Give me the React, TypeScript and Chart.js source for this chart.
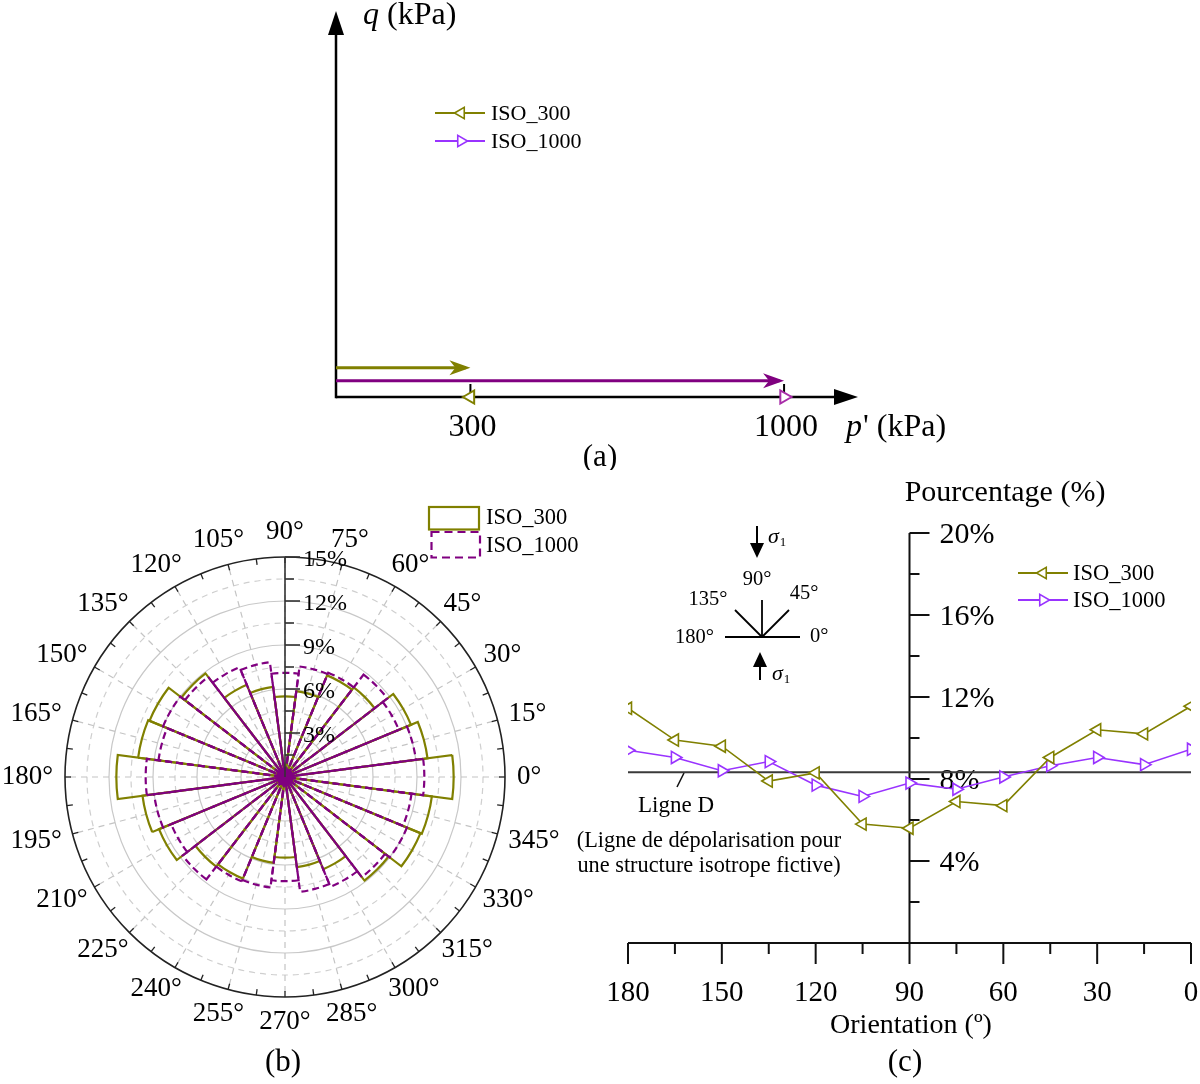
import React, { useEffect, useRef } from "react";
import { Chart, registerables } from "chart.js";

Chart.register(...registerables);

const SERIF = '"Liberation Serif", "Times New Roman", Times, serif';
const OLIVE = "#808000";
const PURPLE = "#800080";
const VIOLET = "#9933ff";
const MAGENTA = "#a82ca8";

// ---------------- Panel (a): loading paths in the p'-q plane ----------------
const seriesNames = ["ISO_300", "ISO_1000"];
const pathStartP = [0, 0];
const pathEndP = [300, 1000];
const pathQ = [7.6, 4.2]; // paths drawn slightly above q = 0 for readability
const endStateP = [300, 1000];
const endStateQ = [0, 0];
const pTicks = [300, 1000];
const pAxisMax = 1165;
const qAxisMax = 100;

// ---------------- Panel (b): rose diagram (%) ----------------
const roseBins = [0, 15, 30, 45, 60, 75, 90, 105, 120, 135, 150, 165];
const rose300 = [11.5, 9.8, 9.3, 7.7, 7.5, 5.9, 5.5, 6.2, 6.8, 8.9, 10.0, 10.1];
const rose1000 = [9.5, 9.0, 8.4, 8.8, 7.7, 7.6, 7.1, 7.9, 8.1, 8.6, 9.0, 8.7];
const roseRadialTicks = [3, 6, 9, 12, 15];
const roseMax = 15;
const roseAngleLabels = [
  0, 15, 30, 45, 60, 75, 90, 105, 120, 135, 150, 165,
  180, 195, 210, 225, 240, 255, 270, 285, 300, 315, 330, 345,
];

// ---------------- Panel (c): distribution vs orientation (%) ----------------
const orientations = [0, 15, 30, 45, 60, 75, 90, 105, 120, 135, 150, 165, 180];
const iso300 = [11.55, 10.2, 10.4, 9.05, 6.7, 6.9, 5.6, 5.8, 8.3, 7.9, 9.6, 9.9, 11.45];
const iso1000 = [9.45, 8.7, 9.05, 8.65, 8.1, 7.5, 7.8, 7.15, 7.7, 8.85, 8.4, 9.05, 9.4];
const ligneDOrient = [180, 0];
const ligneDValue = [8.33, 8.33];
const xTicksC = [180, 150, 120, 90, 60, 30, 0];
const yTicksC = [4, 8, 12, 16, 20];

// ---------------- helpers ----------------
function txt(
  ctx: CanvasRenderingContext2D,
  s: string,
  x: number,
  y: number,
  size: number,
  align: CanvasTextAlign = "center",
  italic = false,
  color = "#000"
) {
  ctx.font = `${italic ? "italic " : ""}${size}px ${SERIF}`;
  ctx.fillStyle = color;
  ctx.textAlign = align;
  ctx.textBaseline = "middle";
  ctx.fillText(s, x, y);
  return ctx.measureText(s).width;
}

function tri(
  ctx: CanvasRenderingContext2D,
  x: number,
  y: number,
  r: number,
  dir: "left" | "right",
  color: string,
  lw = 1.5
) {
  let a = dir === "left" ? -Math.PI / 2 : Math.PI / 2;
  ctx.beginPath();
  for (let k = 0; k < 3; k++) {
    const px = x + Math.sin(a) * r;
    const py = y - Math.cos(a) * r;
    if (k === 0) ctx.moveTo(px, py);
    else ctx.lineTo(px, py);
    a += (2 * Math.PI) / 3;
  }
  ctx.closePath();
  ctx.fillStyle = "#fff";
  ctx.fill();
  ctx.strokeStyle = color;
  ctx.lineWidth = lw;
  ctx.setLineDash([]);
  ctx.stroke();
}

function line(ctx: CanvasRenderingContext2D, x1: number, y1: number, x2: number, y2: number) {
  ctx.beginPath();
  ctx.moveTo(x1, y1);
  ctx.lineTo(x2, y2);
  ctx.stroke();
}

function sigma1(ctx: CanvasRenderingContext2D, x: number, y: number) {
  const w = txt(ctx, "σ", x, y, 22, "left", true);
  txt(ctx, "1", x + w + 1, y + 6, 13, "left");
}

// ---------------- Panel (a) ----------------
const A_POS = { left: 0, top: 0, w: 1200, h: 470 };

const panelAPlugin = {
  id: "panelA",
  beforeDatasetsDraw(chart: any) {
    const { ctx, scales } = chart;
    const x = scales.x;
    const y = scales.y;
    const x0 = x.getPixelForValue(0);
    const y0 = y.getPixelForValue(0);
    const xEnd = x.getPixelForValue(pAxisMax);
    const yEnd = y.getPixelForValue(qAxisMax);
    ctx.save();
    ctx.strokeStyle = "#000";
    ctx.fillStyle = "#000";
    ctx.lineWidth = 2.5;
    line(ctx, x0, y0, xEnd - 12, y0);
    line(ctx, x0, y0 + 1.2, x0, yEnd + 12);
    ctx.beginPath();
    ctx.moveTo(xEnd, y0);
    ctx.lineTo(xEnd - 24, y0 - 8);
    ctx.lineTo(xEnd - 24, y0 + 8);
    ctx.closePath();
    ctx.fill();
    ctx.beginPath();
    ctx.moveTo(x0, yEnd);
    ctx.lineTo(x0 - 8, yEnd + 24);
    ctx.lineTo(x0 + 8, yEnd + 24);
    ctx.closePath();
    ctx.fill();
    ctx.lineWidth = 2;
    pTicks.forEach((p) => {
      const px = x.getPixelForValue(p);
      line(ctx, px, y0, px, y0 - 13);
      txt(ctx, String(p), px + 2, y0 + 31, 32);
    });
    ctx.restore();
  },
  afterDatasetsDraw(chart: any) {
    const { ctx, scales } = chart;
    const x = scales.x;
    const y = scales.y;
    const y0 = y.getPixelForValue(0);
    ctx.save();
    // arrowheads at the end of each path
    const cols = [OLIVE, PURPLE];
    seriesNames.forEach((_, i) => {
      const tx = x.getPixelForValue(pathEndP[i]);
      const ty = y.getPixelForValue(pathQ[i]);
      ctx.fillStyle = cols[i];
      ctx.beginPath();
      ctx.moveTo(tx, ty);
      ctx.lineTo(tx - 21, ty - 7.5);
      ctx.lineTo(tx - 15, ty);
      ctx.lineTo(tx - 21, ty + 7.5);
      ctx.closePath();
      ctx.fill();
    });
    // axis titles
    const xEnd = x.getPixelForValue(pAxisMax);
    const x0 = x.getPixelForValue(0);
    let w = txt(ctx, "p", xEnd - 12, y0 + 31, 32, "left", true);
    txt(ctx, "' (kPa)", xEnd - 12 + w + 1, y0 + 31, 32, "left");
    w = txt(ctx, "q", x0 + 27, 16, 32, "left", true);
    txt(ctx, " (kPa)", x0 + 27 + w, 16, 32, "left");
    txt(ctx, "(a)", 600, y0 + 61, 31);
    // legend
    const legCols = [OLIVE, VIOLET];
    const dirs: ("left" | "right")[] = ["left", "right"];
    seriesNames.forEach((name, i) => {
      const ly = 113 + 28 * i;
      ctx.strokeStyle = legCols[i];
      ctx.lineWidth = 2;
      line(ctx, 435, ly, 485, ly);
      tri(ctx, 461, ly, 6.5, dirs[i], legCols[i], 1.6);
      txt(ctx, name, 491, ly + 1, 22, "left");
    });
    ctx.restore();
  },
};

function makeA(canvas: HTMLCanvasElement) {
  return new Chart(canvas, {
    type: "scatter",
    data: {
      datasets: [
        {
          label: "ISO_300 end",
          data: [{ x: endStateP[0], y: endStateQ[0] }],
          pointStyle: "triangle",
          rotation: -90,
          pointRadius: 7.5,
          pointBorderWidth: 2,
          pointBackgroundColor: "#fff",
          pointBorderColor: OLIVE,
          clip: false,
        } as any,
        {
          label: "ISO_1000 end",
          data: [{ x: endStateP[1], y: endStateQ[1] }],
          pointStyle: "triangle",
          rotation: 90,
          pointRadius: 7.5,
          pointBorderWidth: 2,
          pointBackgroundColor: "#fff",
          pointBorderColor: MAGENTA,
          clip: false,
        } as any,
        {
          label: "ISO_300 path",
          data: [
            { x: pathStartP[0], y: pathQ[0] },
            { x: pathEndP[0] - 10, y: pathQ[0] },
          ],
          showLine: true,
          borderColor: OLIVE,
          borderWidth: 3,
          pointRadius: 0,
          clip: false,
        } as any,
        {
          label: "ISO_1000 path",
          data: [
            { x: pathStartP[1], y: pathQ[1] },
            { x: pathEndP[1] - 10, y: pathQ[1] },
          ],
          showLine: true,
          borderColor: PURPLE,
          borderWidth: 3,
          pointRadius: 0,
          clip: false,
        } as any,
      ],
    },
    options: {
      responsive: false,
      animation: false,
      layout: { padding: { left: 336, right: A_POS.w - 858, top: 11, bottom: A_POS.h - 397 } },
      scales: {
        x: { type: "linear", min: 0, max: pAxisMax, display: false },
        y: { type: "linear", min: 0, max: qAxisMax, display: false },
      },
      plugins: { legend: { display: false }, tooltip: { enabled: false } },
    },
    plugins: [panelAPlugin],
  } as any);
}

// ---------------- Panel (b) ----------------
const B_POS = { left: 0, top: 470, w: 600, h: 614 };
// clockwise from the top, as Chart.js lays out polar-area segments
const roseOrder = roseAngleLabels.map((_, i) => (90 - 15 * i + 360) % 360);

const panelBPlugin = {
  id: "panelB",
  beforeDatasetsDraw(chart: any) {
    const { ctx } = chart;
    const s = chart.scales.r;
    const cx = s.xCenter;
    const cy = s.yCenter;
    const R = s.getDistanceFromCenterForValue(roseMax);
    ctx.save();
    // circular grid: solid at labelled ticks, dashed halfway between
    const gridVals: number[] = [];
    roseRadialTicks.forEach((v, i) => {
      const prev = i === 0 ? 0 : roseRadialTicks[i - 1];
      gridVals.push((prev + v) / 2);
      if (v < roseMax) gridVals.push(v);
    });
    gridVals.forEach((v) => {
      const major = roseRadialTicks.indexOf(v) >= 0;
      ctx.strokeStyle = major ? "#c8c8c8" : "#cfcfcf";
      ctx.lineWidth = 1.2;
      ctx.setLineDash(major ? [] : [6, 5]);
      ctx.beginPath();
      ctx.arc(cx, cy, s.getDistanceFromCenterForValue(v), 0, Math.PI * 2);
      ctx.stroke();
    });
    // dashed angle lines
    ctx.strokeStyle = "#c4c4c4";
    ctx.setLineDash([6, 5]);
    roseAngleLabels.forEach((a) => {
      const rad = (a * Math.PI) / 180;
      line(ctx, cx, cy, cx + Math.cos(rad) * R, cy - Math.sin(rad) * R);
    });
    ctx.setLineDash([]);
    // outer ring with ticks every 7.5 degrees
    ctx.strokeStyle = "#222";
    ctx.lineWidth = 1.6;
    ctx.beginPath();
    ctx.arc(cx, cy, R, 0, Math.PI * 2);
    ctx.stroke();
    ctx.lineWidth = 1.3;
    for (let k = 0; k < 48; k++) {
      const rad = (k * 7.5 * Math.PI) / 180;
      const c = Math.cos(rad);
      const sn = Math.sin(rad);
      line(ctx, cx + c * R, cy - sn * R, cx + c * (R - 6), cy - sn * (R - 6));
    }
    ctx.restore();
  },
  afterDatasetsDraw(chart: any) {
    const { ctx } = chart;
    const s = chart.scales.r;
    const cx = s.xCenter;
    const cy = s.yCenter;
    const R = s.getDistanceFromCenterForValue(roseMax);
    ctx.save();
    // where the many sector edges converge
    ctx.fillStyle = PURPLE;
    ctx.beginPath();
    ctx.arc(cx, cy, 9, 0, Math.PI * 2);
    ctx.fill();
    // radial axis along 90 deg
    ctx.strokeStyle = "#333";
    ctx.lineWidth = 1.6;
    line(ctx, cx, cy, cx, cy - R);
    roseRadialTicks.forEach((v, i) => {
      const prev = i === 0 ? 0 : roseRadialTicks[i - 1];
      const ym = cy - s.getDistanceFromCenterForValue((prev + v) / 2);
      line(ctx, cx, ym, cx + 9, ym);
      const yv = cy - s.getDistanceFromCenterForValue(v);
      line(ctx, cx, yv, cx + 15, yv);
      txt(ctx, v + "%", cx + 18, yv + 3, 24, "left");
    });
    // angular labels
    roseAngleLabels.forEach((a) => {
      const rad = (a * Math.PI) / 180;
      const c = Math.cos(rad);
      const sn = Math.sin(rad);
      const label = a + "°";
      ctx.font = `27px ${SERIF}`;
      const w = ctx.measureText(label).width;
      const h = 26;
      const d = R + 12;
      txt(ctx, label, cx + c * d + (c * w) / 2, cy - sn * d - (sn * h) / 2, 27);
    });
    ctx.restore();
  },
  afterDraw(chart: any) {
    const { ctx } = chart;
    ctx.save();
    ctx.translate(-B_POS.left, -B_POS.top);
    // legend
    ctx.lineWidth = 2.2;
    ctx.strokeStyle = OLIVE;
    ctx.setLineDash([]);
    ctx.strokeRect(429, 507, 50, 22.5);
    ctx.strokeStyle = PURPLE;
    ctx.setLineDash([8, 5]);
    ctx.strokeRect(431.5, 532, 48.5, 25.5);
    ctx.setLineDash([]);
    txt(ctx, seriesNames[0], 486, 518, 22.5, "left");
    txt(ctx, seriesNames[1], 486, 546, 22.5, "left");
    txt(ctx, "(b)", 283, 1063, 31);
    ctx.restore();
  },
};

function makeB(canvas: HTMLCanvasElement) {
  const left = 65;
  const top = 557 - B_POS.top;
  const size = 440;
  return new Chart(canvas, {
    type: "polarArea",
    data: {
      labels: roseOrder.map((o) => o + "°"),
      datasets: [
        {
          label: seriesNames[1],
          data: roseOrder.map((o) => rose1000[roseBins.indexOf(o % 180)]),
          backgroundColor: "rgba(255,255,255,0)",
          borderColor: PURPLE,
          borderWidth: 2.2,
          borderDash: [7, 4],
          borderAlign: "center",
          borderJoinStyle: "miter",
        } as any,
        {
          label: seriesNames[0],
          data: roseOrder.map((o) => rose300[roseBins.indexOf(o % 180)]),
          backgroundColor: "rgba(255,255,255,0)",
          borderColor: OLIVE,
          borderWidth: 2.2,
          borderAlign: "center",
          borderJoinStyle: "miter",
        } as any,
      ],
    },
    options: {
      responsive: false,
      animation: false,
      layout: {
        padding: { left, top, right: B_POS.w - left - size, bottom: B_POS.h - top - size },
      },
      scales: {
        r: {
          min: 0,
          max: roseMax,
          startAngle: -7.5,
          ticks: { display: false },
          grid: { display: false },
          angleLines: { display: false },
          pointLabels: { display: false },
        },
      },
      plugins: { legend: { display: false }, tooltip: { enabled: false } },
    },
    plugins: [panelBPlugin],
  } as any);
}

// ---------------- Panel (c) ----------------
const C_POS = { left: 560, top: 470, w: 640, h: 614 };

const panelCPlugin = {
  id: "panelC",
  beforeDatasetsDraw(chart: any) {
    const { ctx, scales } = chart;
    const x = scales.x;
    const y = scales.y;
    const y0 = y.getPixelForValue(0);
    const axX = x.getPixelForValue(90);
    ctx.save();
    ctx.strokeStyle = "#111";
    ctx.lineWidth = 2;
    // bottom axis
    line(ctx, x.getPixelForValue(180), y0, x.getPixelForValue(0), y0);
    xTicksC.forEach((v, i) => {
      const px = x.getPixelForValue(v);
      line(ctx, px, y0, px, y0 + 21);
      txt(ctx, String(v), px, y0 + 50, 29);
      if (i < xTicksC.length - 1) {
        const pm = x.getPixelForValue((v + xTicksC[i + 1]) / 2);
        line(ctx, pm, y0, pm, y0 + 11);
      }
    });
    // vertical axis at 90 deg
    line(ctx, axX, y0, axX, y.getPixelForValue(20));
    yTicksC.forEach((v, i) => {
      const py = y.getPixelForValue(v);
      line(ctx, axX, py, axX + 20, py);
      txt(ctx, v + "%", axX + 30, py + 2, 30, "left");
      const prev = i === 0 ? 0 : yTicksC[i - 1];
      const pm = y.getPixelForValue((prev + v) / 2);
      line(ctx, axX, pm, axX + 10, pm);
    });
    ctx.restore();

    // fixed annotations in page coordinates
    ctx.save();
    ctx.translate(-C_POS.left, -C_POS.top);
    txt(ctx, "Pourcentage (%)", 1005, 493, 30);
    txt(ctx, "Orientation (º)", 911, 1026, 28);
    txt(ctx, "(c)", 905, 1063, 31);
    // Ligne D annotation
    ctx.strokeStyle = "#111";
    ctx.lineWidth = 1.5;
    line(ctx, 677, 787, 684, 773);
    txt(ctx, "Ligne D", 676, 806, 23);
    txt(ctx, "(Ligne de dépolarisation pour", 709, 841, 22.3);
    txt(ctx, "une structure isotrope fictive)", 709, 866, 22.3);
    // legend
    const legCols = [OLIVE, VIOLET];
    const dirs: ("left" | "right")[] = ["left", "right"];
    seriesNames.forEach((name, i) => {
      const ly = 573 + 27 * i;
      ctx.strokeStyle = legCols[i];
      ctx.lineWidth = 1.8;
      line(ctx, 1018, ly, 1068, ly);
      tri(ctx, 1043, ly, 6.5, dirs[i], legCols[i], 1.6);
      txt(ctx, name, 1073, ly + 1, 22.5, "left");
    });
    // inset: orientation convention
    ctx.strokeStyle = "#000";
    ctx.fillStyle = "#000";
    ctx.lineWidth = 2;
    line(ctx, 757, 526, 757, 545);
    ctx.beginPath();
    ctx.moveTo(750, 543);
    ctx.lineTo(764, 543);
    ctx.lineTo(757, 558);
    ctx.closePath();
    ctx.fill();
    sigma1(ctx, 768, 537);
    ctx.lineWidth = 1.8;
    const fx = 762;
    const fy = 637;
    line(ctx, 725, fy, 800, fy);
    line(ctx, fx, fy, fx, 600);
    line(ctx, fx, fy, fx - 27, fy - 27);
    line(ctx, fx, fy, fx + 27, fy - 27);
    txt(ctx, "90°", 757, 580, 20.5);
    txt(ctx, "135°", 708, 600, 20.5);
    txt(ctx, "45°", 804, 594, 20.5);
    txt(ctx, "180°", 714, 638, 20.5, "right");
    txt(ctx, "0°", 810, 637, 20.5, "left");
    ctx.lineWidth = 2;
    ctx.beginPath();
    ctx.moveTo(753, 667);
    ctx.lineTo(767, 667);
    ctx.lineTo(760, 652);
    ctx.closePath();
    ctx.fill();
    line(ctx, 760, 665, 760, 680);
    sigma1(ctx, 772, 674);
    ctx.restore();
  },
};

function makeC(canvas: HTMLCanvasElement) {
  const left = 628 - C_POS.left;
  const right = C_POS.w - (1191 - C_POS.left);
  const top = 533 - C_POS.top;
  const bottom = C_POS.h - (943 - C_POS.top);
  return new Chart(canvas, {
    type: "line",
    data: {
      datasets: [
        {
          label: seriesNames[0],
          data: orientations.map((o, i) => ({ x: o, y: iso300[i] })),
          borderColor: OLIVE,
          borderWidth: 1.6,
          pointStyle: "triangle",
          rotation: -90,
          pointRadius: 7,
          pointBorderWidth: 1.6,
          pointBackgroundColor: "#fff",
          pointBorderColor: OLIVE,
          tension: 0,
        } as any,
        {
          label: seriesNames[1],
          data: orientations.map((o, i) => ({ x: o, y: iso1000[i] })),
          borderColor: VIOLET,
          borderWidth: 1.6,
          pointStyle: "triangle",
          rotation: 90,
          pointRadius: 7,
          pointBorderWidth: 1.6,
          pointBackgroundColor: "#fff",
          pointBorderColor: VIOLET,
          tension: 0,
        } as any,
        {
          label: "Ligne D",
          data: ligneDOrient.map((o, i) => ({ x: o, y: ligneDValue[i] })),
          borderColor: "#3a3a3a",
          borderWidth: 2,
          pointRadius: 0,
        } as any,
      ],
    },
    options: {
      responsive: false,
      animation: false,
      layout: { padding: { left, right, top, bottom } },
      scales: {
        x: { type: "linear", min: 0, max: 180, reverse: true, display: false },
        y: { type: "linear", min: 0, max: 20, display: false },
      },
      plugins: { legend: { display: false }, tooltip: { enabled: false } },
    },
    plugins: [panelCPlugin],
  } as any);
}

export default function App() {
  const aRef = useRef<HTMLCanvasElement>(null);
  const bRef = useRef<HTMLCanvasElement>(null);
  const cRef = useRef<HTMLCanvasElement>(null);

  useEffect(() => {
    const charts: Chart[] = [];
    if (aRef.current) charts.push(makeA(aRef.current));
    if (bRef.current) charts.push(makeB(bRef.current));
    if (cRef.current) charts.push(makeC(cRef.current));
    return () => charts.forEach((c) => c.destroy());
  }, []);

  return (
    <div
      style={{
        position: "absolute",
        left: 0,
        top: 0,
        width: 1200,
        height: 1084,
        background: "#fff",
        overflow: "hidden",
      }}
    >
      <canvas
        ref={aRef}
        width={A_POS.w}
        height={A_POS.h}
        style={{ position: "absolute", left: A_POS.left, top: A_POS.top }}
      />
      <canvas
        ref={bRef}
        width={B_POS.w}
        height={B_POS.h}
        style={{ position: "absolute", left: B_POS.left, top: B_POS.top }}
      />
      <canvas
        ref={cRef}
        width={C_POS.w}
        height={C_POS.h}
        style={{ position: "absolute", left: C_POS.left, top: C_POS.top }}
      />
    </div>
  );
}
